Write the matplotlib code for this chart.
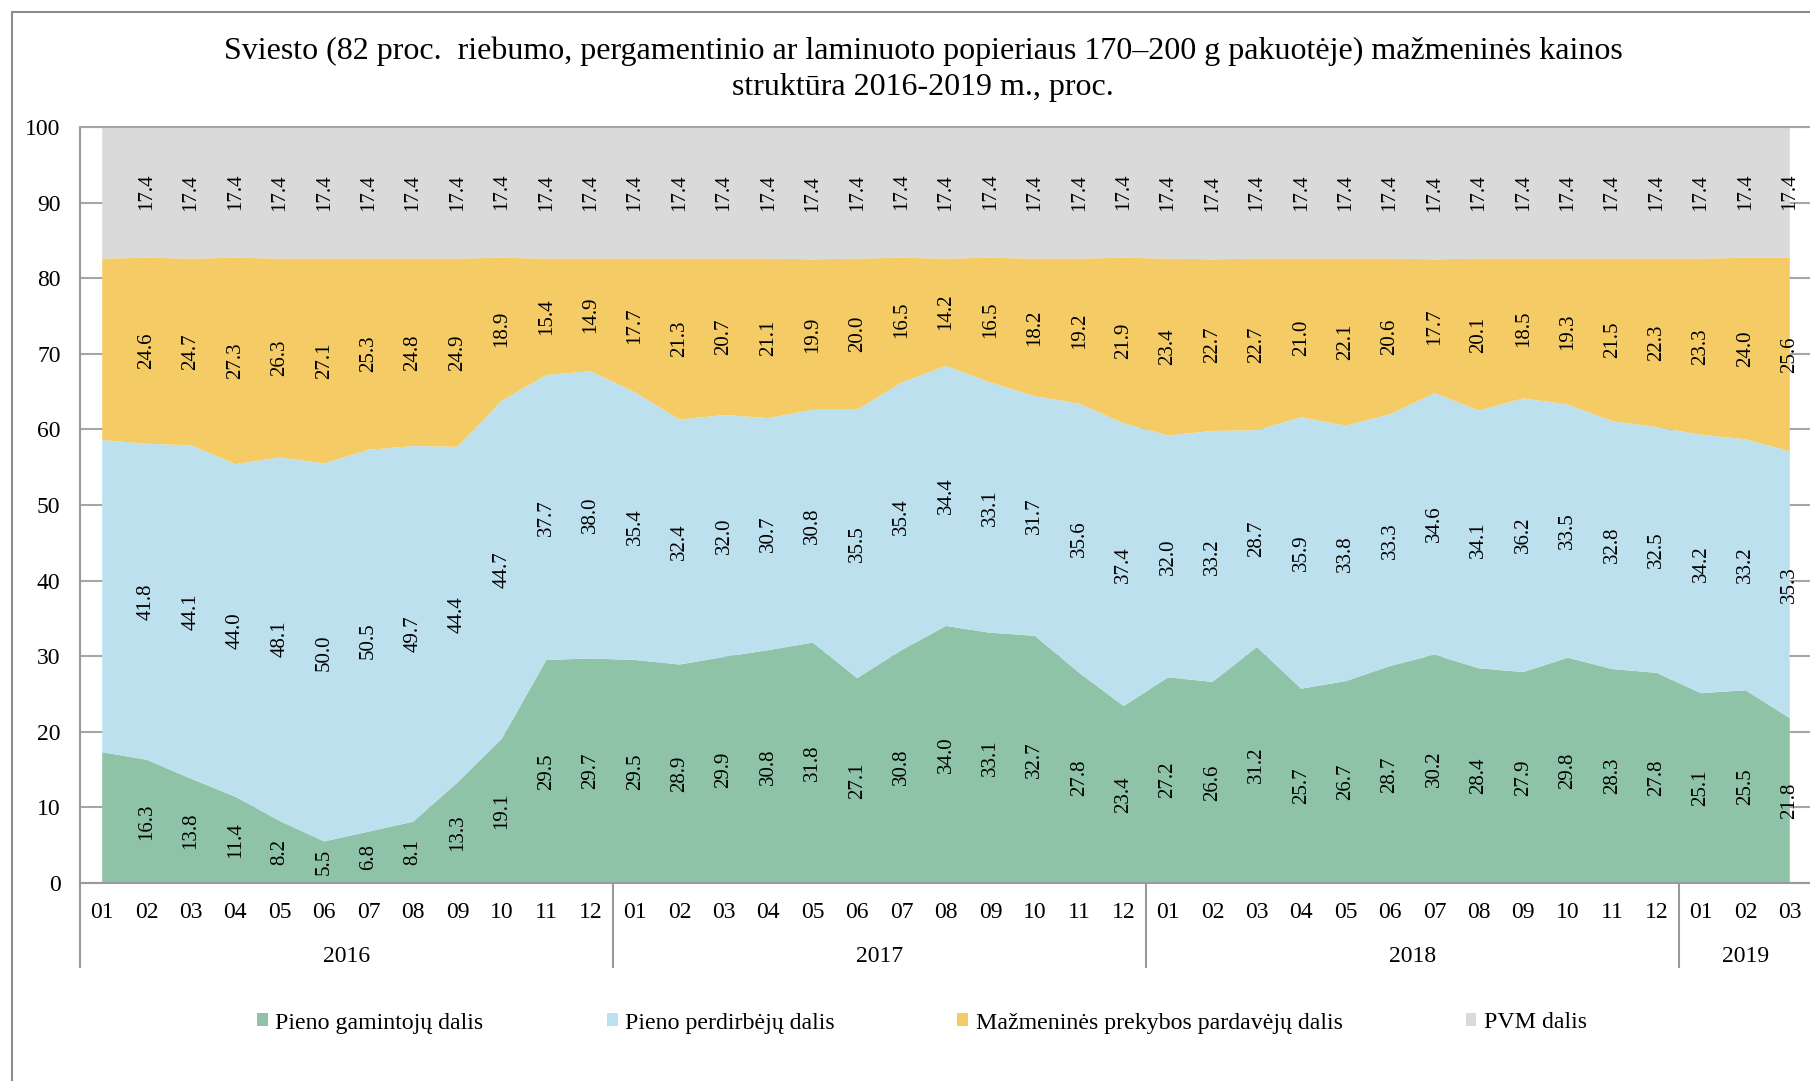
import matplotlib
matplotlib.use('Agg')
import matplotlib.pyplot as plt
from matplotlib.patches import Patch, Rectangle
import numpy as np

plt.rcParams['font.family'] = ['Liberation Serif', 'DejaVu Serif']

months = ['01', '02', '03', '04', '05', '06', '07', '08', '09', '10', '11', '12',
          '01', '02', '03', '04', '05', '06', '07', '08', '09', '10', '11', '12',
          '01', '02', '03', '04', '05', '06', '07', '08', '09', '10', '11', '12',
          '01', '02', '03']
years = ['2016', '2017', '2018', '2019']
year_centers = [5.5, 17.5, 29.5, 37]
year_breaks = [-0.5, 11.5, 23.5, 35.5]

gamintoju = [17.3, 16.3, 13.8, 11.4, 8.2, 5.5, 6.8, 8.1, 13.3, 19.1, 29.5, 29.7,
             29.5, 28.9, 29.9, 30.8, 31.8, 27.1, 30.8, 34.0, 33.1, 32.7, 27.8, 23.4,
             27.2, 26.6, 31.2, 25.7, 26.7, 28.7, 30.2, 28.4, 27.9, 29.8, 28.3, 27.8,
             25.1, 25.5, 21.8]
perdirbeju = [41.3, 41.8, 44.1, 44.0, 48.1, 50.0, 50.5, 49.7, 44.4, 44.7, 37.7, 38.0,
              35.4, 32.4, 32.0, 30.7, 30.8, 35.5, 35.4, 34.4, 33.1, 31.7, 35.6, 37.4,
              32.0, 33.2, 28.7, 35.9, 33.8, 33.3, 34.6, 34.1, 36.2, 33.5, 32.8, 32.5,
              34.2, 33.2, 35.3]
prekybos = [24.0, 24.6, 24.7, 27.3, 26.3, 27.1, 25.3, 24.8, 24.9, 18.9, 15.4, 14.9,
            17.7, 21.3, 20.7, 21.1, 19.9, 20.0, 16.5, 14.2, 16.5, 18.2, 19.2, 21.9,
            23.4, 22.7, 22.7, 21.0, 22.1, 20.6, 17.7, 20.1, 18.5, 19.3, 21.5, 22.3,
            23.3, 24.0, 25.6]
pvm = [17.4, 17.4, 17.4, 17.4, 17.4, 17.4, 17.4, 17.4, 17.4, 17.4, 17.4, 17.4,
       17.4, 17.4, 17.4, 17.4, 17.4, 17.4, 17.4, 17.4, 17.4, 17.4, 17.4, 17.4,
       17.4, 17.4, 17.4, 17.4, 17.4, 17.4, 17.4, 17.4, 17.4, 17.4, 17.4, 17.4,
       17.4, 17.4, 17.4]

series = [gamintoju, perdirbeju, prekybos, pvm]
names = ['Pieno gamintojų dalis', 'Pieno perdirbėjų dalis',
         'Mažmeninės prekybos pardavėjų dalis', 'PVM dalis']
colors = ['#8EC3A7', '#BDE0EF', '#F5CB66', '#DADADA']

W, H = 1810, 1081
fig = plt.figure(figsize=(W / 100, H / 100), dpi=100)
ax = fig.add_axes([80 / W, (H - 883) / H, (1812 - 80) / W, (883 - 127) / H])

x = np.arange(len(months))
ax.stackplot(x, *series, colors=colors, zorder=2)
ax.set_xlim(-0.5, 38.5)
ax.set_ylim(0, 100)
ax.set_axisbelow(True)
ax.set_yticks(range(0, 101, 10))
ax.yaxis.grid(True, color='#A6A6A6', lw=1.5, zorder=0)
# top gridline stays visible over the areas
ax.axhline(100, color='#A6A6A6', lw=1.5, zorder=3, clip_on=False)

for s in ['top', 'right']:
    ax.spines[s].set_visible(False)
for s in ['left', 'bottom']:
    ax.spines[s].set_color('#999999')
    ax.spines[s].set_linewidth(1.5)

ax.set_xticks(x)
ax.set_xticklabels(months)
ax.tick_params(axis='x', length=0, pad=14, labelsize=17)
ax.tick_params(axis='y', length=0, pad=14, labelsize=17)

# data labels in the middle of each band (first month has none)
base = np.zeros(len(months))
for vals in series:
    vals = np.array(vals)
    for i in range(1, len(vals)):
        ax.text(i, base[i] + vals[i] / 2, f'{vals[i]:.1f}', rotation=90,
                ha='center', va='center', fontsize=15, zorder=5)
    base = base + vals

# year level of the category axis
trans = ax.get_xaxis_transform()
ax.vlines(year_breaks, -0.1124, 0, transform=trans, colors='#999999',
          lw=1.5, clip_on=False)
for c, yr in zip(year_centers, years):
    ax.text(c, -(956 - 883) / 756, yr, transform=trans, ha='center',
            va='center', fontsize=17)

fig.text(923 / W, 1 - 51 / H,
         'Sviesto (82 proc.  riebumo, pergamentinio ar laminuoto popieriaus 170–200 g pakuotėje) mažmeninės kainos',
         ha='center', va='center', fontsize=23)
fig.text(923 / W, 1 - 87 / H, 'struktūra 2016-2019 m., proc.',
         ha='center', va='center', fontsize=23)

handles = [Patch(facecolor=c, edgecolor='none') for c in colors]
fig.legend(handles, names, loc='center', bbox_to_anchor=(922 / W, 1 - 1023 / H),
           ncol=4, frameon=False, fontsize=17.2, handlelength=0.46,
           handleheight=0.46, handletextpad=0.3, columnspacing=5.15)

fig.add_artist(Rectangle((12 / W, -0.5), 2, (1 - 12 / H) + 0.5,
                         transform=fig.transFigure, fill=False,
                         ec='#8C8C8C', lw=1.5))

fig.savefig('out.png', dpi=100)
